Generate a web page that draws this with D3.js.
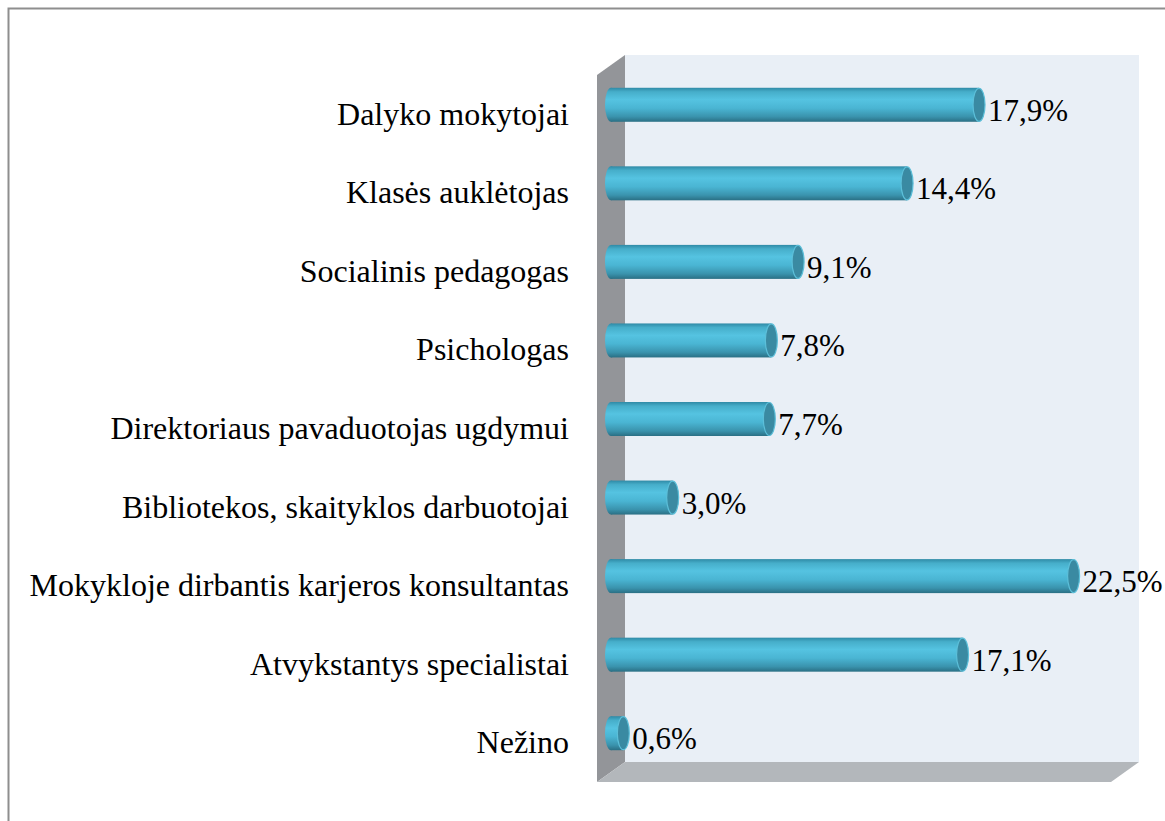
<!DOCTYPE html>
<html>
<head>
  <meta charset="utf-8">
  <script src="https://d3js.org/d3.v7.min.js"></script>
  <style>
    body { margin: 0; background: #fff; }
    .cat-label, .val-label {
      font-family: "Liberation Serif", "Times New Roman", serif;
      fill: #000;
    }
    .cat-label { font-size: 32px; }
    .val-label { font-size: 31px; }
  </style>
</head>
<body>
  <svg class="chart"></svg>
  <script>
      // Data
      const CATEGORIES = [
        "Dalyko mokytojai",
        "Klasės auklėtojas",
        "Socialinis pedagogas",
        "Psichologas",
        "Direktoriaus pavaduotojas ugdymui",
        "Bibliotekos, skaityklos darbuotojai",
        "Mokykloje dirbantis karjeros konsultantas",
        "Atvykstantys specialistai",
        "Nežino"
      ];
      const VALUES = [17.9, 14.4, 9.1, 7.8, 7.7, 3.0, 22.5, 17.1, 0.6];
      const X_DOMAIN = [0, 25];

      // Layout constants
      const WIDTH       = 1165;
      const HEIGHT      = 821;
      const FRONT_LEFT  = 597;
      const FRONT_RIGHT = 1111;
      const FRONT_TOP   = 75;
      const FRONT_BOT   = 782;
      const DX          = 28;   // depth offset
      const DY          = -20;
      const BAR_H       = 34;
      const CAP_RX      = 6;

      const COLOR_WALL  = "#e9eff6";
      const COLOR_SIDE  = "#939599";
      const COLOR_FLOOR = "#b3b7bb";

      const svg = d3.select(".chart")
          .attr("width", WIDTH).attr("height", HEIGHT);

      const defs = svg.append("defs");
      const grad = defs.append("linearGradient")
          .attr("id", "cyl").attr("x1", 0).attr("y1", 0).attr("x2", 0).attr("y2", 1);
      [["0%", "#2f8aa6"], ["12%", "#46aeca"], ["35%", "#55c3e1"], ["60%", "#4ab5d3"],
       ["85%", "#3a93ad"], ["100%", "#2a6f84"]].forEach(s =>
        grad.append("stop").attr("offset", s[0]).attr("stop-color", s[1]));

      // outer frame
      svg.append("rect")
          .attr("x", 8.5).attr("y", 8.5)
          .attr("width", WIDTH + 20).attr("height", HEIGHT + 20)
          .attr("fill", "none").attr("stroke", "#8e8e8e").attr("stroke-width", 2);

      // scales
      const xScale = d3.scaleLinear().domain(X_DOMAIN).range([FRONT_LEFT, FRONT_RIGHT]);
      const yScale = d3.scaleBand().domain(CATEGORIES).range([FRONT_TOP, FRONT_BOT]);

      // back wall
      svg.append("rect")
          .attr("x", FRONT_LEFT + DX).attr("y", FRONT_TOP + DY)
          .attr("width", FRONT_RIGHT - FRONT_LEFT).attr("height", FRONT_BOT - FRONT_TOP)
          .attr("fill", COLOR_WALL);

      // side wall
      svg.append("polygon")
          .attr("points", [
            [FRONT_LEFT, FRONT_TOP], [FRONT_LEFT + DX, FRONT_TOP + DY],
            [FRONT_LEFT + DX, FRONT_BOT + DY], [FRONT_LEFT, FRONT_BOT]
          ].join(" "))
          .attr("fill", COLOR_SIDE);

      // floor
      svg.append("polygon")
          .attr("points", [
            [FRONT_LEFT, FRONT_BOT], [FRONT_LEFT + DX, FRONT_BOT + DY],
            [FRONT_RIGHT + DX, FRONT_BOT + DY], [FRONT_RIGHT, FRONT_BOT]
          ].join(" "))
          .attr("fill", COLOR_FLOOR);

      const rows = CATEGORIES.map((c, i) => ({ cat: c, value: VALUES[i] }));
      const barY = d => yScale(d.cat) + yScale.bandwidth() / 2 - 9.5;
      const x0 = xScale(0) + DX / 2;
      const x1 = d => xScale(d.value) + DX / 2;

      const bars = svg.selectAll(".bar").data(rows).enter()
          .append("g").attr("class", "bar");

      // left rounded end
      bars.append("ellipse")
          .attr("cx", x0).attr("cy", barY)
          .attr("rx", CAP_RX).attr("ry", BAR_H / 2)
          .attr("fill", "url(#cyl)");

      // body
      bars.append("rect")
          .attr("x", x0).attr("y", d => barY(d) - BAR_H / 2)
          .attr("width", d => x1(d) - x0).attr("height", BAR_H)
          .attr("fill", "url(#cyl)");

      // right cap
      bars.append("ellipse")
          .attr("cx", x1).attr("cy", barY)
          .attr("rx", CAP_RX).attr("ry", BAR_H / 2 - 0.5)
          .attr("fill", "#3a8aa2")
          .attr("stroke", "#5cbfd9").attr("stroke-width", 1.2);

      // value labels
      svg.selectAll(".val-label").data(rows).enter()
          .append("text").attr("class", "val-label")
          .attr("x", d => x1(d) + CAP_RX + 3)
          .attr("y", d => barY(d) + 16)
          .text(d => d.value.toFixed(1).replace(".", ",") + "%");

      // category labels
      svg.selectAll(".cat-label").data(rows).enter()
          .append("text").attr("class", "cat-label")
          .attr("x", 569)
          .attr("y", d => barY(d) + 20)
          .attr("text-anchor", "end")
          .text(d => d.cat);
  </script>
</body>
</html>
